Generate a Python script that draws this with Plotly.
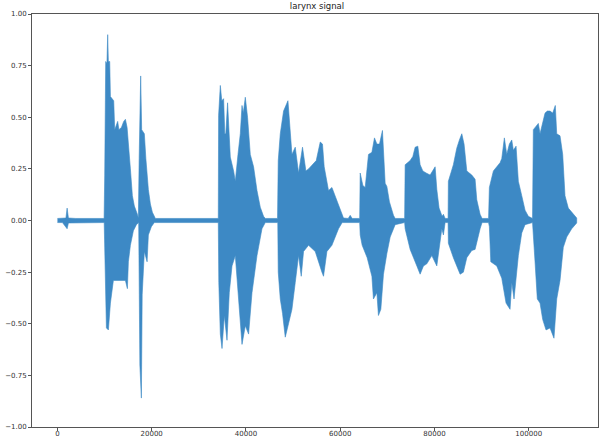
import plotly.graph_objects as go

# Envelope of the larynx signal (sample index, amplitude)
upper_x = [0, 1060, 1800, 2050, 2330, 3900, 7100, 9900, 10030, 10240, 10500, 10660, 10800, 11090, 11240, 11940,
           12150, 12780, 13040, 13570, 14060, 14420, 14780, 15200, 15480, 15900, 16320, 16960, 17170, 17340,
           17660, 17870, 18440, 18760, 19020, 19290, 19720, 20140, 20780, 26080, 30300, 34130, 34200, 34560,
           34870, 35260, 35510, 35720, 36100, 36360, 36680, 37380, 37740, 38310, 38800, 39160, 39430, 39860,
           40340, 40920, 41620, 42340, 43040, 43740, 44100, 46700, 46850, 47280, 47980, 48910, 49400, 49760,
           50460, 51160, 52000, 52720, 53280, 54340, 54910, 55760, 56240, 56600, 57520, 58240, 59300, 60000,
           60700, 61700, 62120, 62540, 64130, 64240, 64800, 65300, 66000, 66720, 67270, 67780, 68330, 68960,
           69540, 69900, 70450, 71300, 71660, 73670, 73780, 74840, 75410, 75900, 76470, 76960, 77530, 78230,
           79080, 80140, 80500, 80980, 81620, 81900, 82260, 82890, 82950, 84010, 84730, 85290, 85800, 86280,
           86860, 87920, 88620, 88980, 89680, 90100, 91480, 91650, 92500, 93220, 93920, 94280, 94830, 95340,
           95890, 96400, 96740, 97310, 97800, 98520, 99220, 99920, 100810, 100980, 101340, 102040, 102400,
           102970, 103460, 103950, 104520, 105090, 105640, 105940, 106640, 107210, 107700, 108400, 109460, 110180]
upper_y = [0.010, 0.010, 0.012, 0.060, 0.012, 0.010, 0.010, 0.010, 0.22, 0.77, 0.76, 0.90, 0.77, 0.77, 0.60, 0.58,
           0.44, 0.48, 0.44, 0.45, 0.48, 0.49, 0.45, 0.30, 0.25, 0.12, 0.07, 0.03, 0.012, 0.30,
           0.70, 0.44, 0.42, 0.30, 0.22, 0.15, 0.08, 0.04, 0.010, 0.010, 0.010, 0.010, 0.51, 0.654,
           0.58, 0.59, 0.42, 0.42, 0.57, 0.41, 0.307, 0.24, 0.19, 0.32, 0.42, 0.557, 0.52, 0.597,
           0.50, 0.32, 0.26, 0.145, 0.064, 0.02, 0.010, 0.010, 0.29, 0.42, 0.53, 0.58, 0.44, 0.32,
           0.355, 0.23, 0.355, 0.24, 0.25, 0.275, 0.29, 0.38, 0.37, 0.26, 0.145, 0.16, 0.097, 0.05,
           0.012, 0.010, 0.025, 0.010, 0.010, 0.23, 0.17, 0.16, 0.32, 0.33, 0.40, 0.37, 0.37, 0.436,
           0.18, 0.165, 0.09, 0.025, 0.010, 0.010, 0.27, 0.29, 0.31, 0.355, 0.36, 0.27, 0.24, 0.23,
           0.22, 0.26, 0.15, 0.06, 0.02, 0.03, 0.010, 0.010, 0.19, 0.27, 0.35, 0.39, 0.42, 0.37,
           0.24, 0.22, 0.20, 0.10, 0.03, 0.010, 0.010, 0.16, 0.24, 0.26, 0.28, 0.30, 0.40, 0.32,
           0.37, 0.39, 0.34, 0.36, 0.19, 0.12, 0.05, 0.02, 0.010, 0.44, 0.45, 0.47, 0.42,
           0.48, 0.52, 0.53, 0.53, 0.52, 0.557, 0.42, 0.41, 0.32, 0.12, 0.06, 0.03, 0.012]

lower_x = [0, 1060, 2050, 2330, 9920, 10030, 10390, 10810, 11240, 11870, 14420, 14840, 15050, 15480, 16110,
           16750, 17240, 17490, 17810, 17980, 18440, 19020, 19290, 19930, 20560, 34130, 34240, 34560, 34920,
           35410, 35980, 36460, 37040, 37740, 38440, 39160, 39860, 40560, 41280, 42340, 43400, 44100, 46750,
           46850, 47280, 47760, 48340, 49030, 49760, 50460, 51160, 51730, 52220, 53280, 54700, 56120, 56460,
           57180, 58240, 59640, 60420, 64130, 64240, 64660, 65720, 66720, 67050, 67780, 68110, 68620, 69180,
           69900, 70600, 71660, 73670, 73780, 74840, 76260, 76960, 77660, 78370, 79440, 80500, 81560, 81900,
           82260, 82890, 82950, 84010, 85440, 86140, 86860, 87920, 88620, 89680, 90100, 91480, 91650, 91950,
           93220, 94280, 95190, 96040, 96400, 96880, 97800, 98520, 99220, 100810, 101340, 101820, 102400,
           102970, 103670, 104520, 105360, 105940, 106640, 107340, 108060, 109120, 110180]
lower_y = [-0.010, -0.010, -0.04, -0.012, -0.010, -0.20, -0.52, -0.53, -0.40, -0.29, -0.29, -0.33, -0.20, -0.12, -0.05,
           -0.02, -0.010, -0.70, -0.86, -0.36, -0.15, -0.20, -0.07, -0.03, -0.010, -0.010, -0.30, -0.55, -0.62,
           -0.46, -0.58, -0.35, -0.22, -0.17, -0.38, -0.60, -0.51, -0.55, -0.35, -0.17, -0.04, -0.010, -0.010,
           -0.25, -0.38, -0.45, -0.565, -0.50, -0.43, -0.30, -0.17, -0.27, -0.15, -0.12, -0.15, -0.25, -0.27,
           -0.15, -0.12, -0.04, -0.010, -0.010, -0.07, -0.12, -0.18, -0.27, -0.38, -0.35, -0.46, -0.43, -0.26,
           -0.16, -0.08, -0.02, -0.010, -0.04, -0.14, -0.22, -0.26, -0.22, -0.21, -0.17, -0.22, -0.04, -0.07,
           -0.010, -0.010, -0.11, -0.18, -0.26, -0.25, -0.18, -0.145, -0.14, -0.04, -0.010, -0.010, -0.03, -0.20,
           -0.22, -0.28, -0.40, -0.43, -0.30, -0.38, -0.17, -0.06, -0.02, -0.010, -0.20, -0.38, -0.40,
           -0.48, -0.53, -0.52, -0.57, -0.38, -0.29, -0.13, -0.08, -0.04, -0.012]

y_ticks = [-1.0, -0.75, -0.5, -0.25, 0.0, 0.25, 0.5, 0.75, 1.0]
y_labels = ["\u22121.00", "\u22120.75", "\u22120.50", "\u22120.25", "0.00", "0.25", "0.50", "0.75", "1.00"]
x_ticks = [0, 20000, 40000, 60000, 80000, 100000]
x_labels = ["0", "20000", "40000", "60000", "80000", "100000"]

color = "#3d89c5"
poly_x = upper_x + lower_x[::-1]
poly_y = upper_y + lower_y[::-1]

fig = go.Figure()
fig.add_trace(go.Scatter(x=poly_x, y=poly_y, mode="lines", fill="toself",
                         fillcolor=color, line=dict(color=color, width=0.6),
                         hoverinfo="skip", showlegend=False))

font = dict(family="DejaVu Sans", size=7, color="#333333")
fig.update_layout(
    width=601, height=439,
    margin=dict(l=32, r=3, t=14, b=12, autoexpand=False),
    paper_bgcolor="white", plot_bgcolor="white",
    title=dict(text="larynx signal", x=317 / 601, xanchor="center",
               y=1 - 6 / 439, yanchor="middle", yref="container",
               font=dict(family="DejaVu Sans", size=8.5, color="#222222")),
    font=font,
    showlegend=False,
)
fig.update_xaxes(range=[-5400, 114700], tickvals=x_ticks, ticktext=x_labels, automargin=False,
                 showgrid=False, zeroline=False, showline=True, mirror=True,
                 linecolor="#555555", linewidth=1, ticks="outside", ticklen=3,
                 ticklabelstandoff=-3,
                 tickcolor="#555555", tickfont=font)
fig.update_yaxes(range=[-1, 1], tickvals=y_ticks, ticktext=y_labels, automargin=False,
                 showgrid=False, zeroline=False, showline=True, mirror=True,
                 linecolor="#555555", linewidth=1, ticks="outside", ticklen=3,
                 tickcolor="#555555", tickfont=font)

fig.write_html("out.html")
